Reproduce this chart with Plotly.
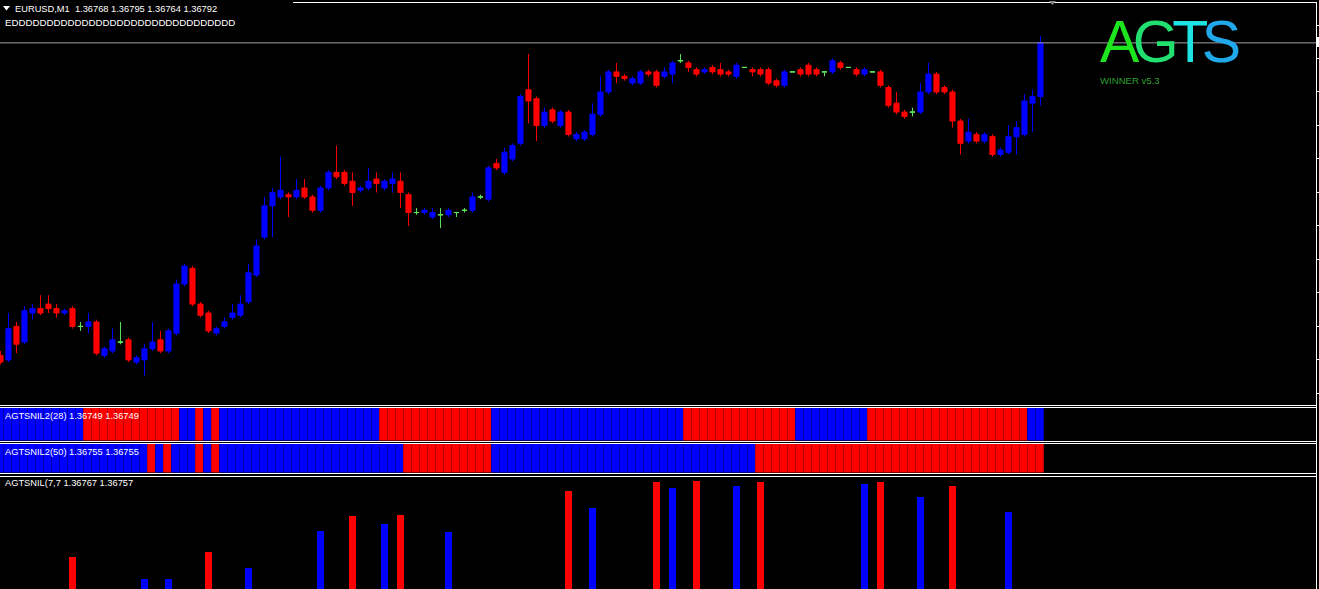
import plotly.graph_objects as go

W, H = 1319, 589

# ---------------- data (EURUSD M1, oldest -> newest) ----------------
symbol = "EURUSD,M1"
open_ = [1.36652, 1.36650, 1.36665, 1.36658, 1.36671, 1.36673, 1.36675, 1.36673, 1.36671, 1.36673,
         1.36665, 1.36665, 1.36667, 1.36652, 1.36654, 1.36658, 1.36659, 1.36649, 1.36650, 1.36655,
         1.36659, 1.36654, 1.36662, 1.36684, 1.36691, 1.36675, 1.36671, 1.36662, 1.36665, 1.36669,
         1.36670, 1.36676, 1.36688, 1.36705, 1.36719, 1.36723, 1.36724, 1.36723, 1.36727, 1.36723,
         1.36717, 1.36727, 1.36734, 1.36734, 1.36730, 1.36726, 1.36727, 1.36731, 1.36727, 1.36729,
         1.36730, 1.36724, 1.36716, 1.36716, 1.36714, 1.36715, 1.36715, 1.36716, 1.36717, 1.36717,
         1.36723, 1.36722, 1.36738, 1.36734, 1.36740, 1.36747, 1.36771, 1.36767, 1.36755, 1.36762,
         1.36755, 1.36761, 1.36749, 1.36749, 1.36751, 1.36760, 1.36770, 1.36779, 1.36777, 1.36774,
         1.36774, 1.36779, 1.36779, 1.36777, 1.36778, 1.36784, 1.36783, 1.36780, 1.36779, 1.36781,
         1.36780, 1.36779, 1.36777, 1.36781, 1.36780, 1.36780, 1.36780, 1.36775, 1.36773, 1.36779,
         1.36780, 1.36782, 1.36780, 1.36779, 1.36779, 1.36783, 1.36781, 1.36780, 1.36778, 1.36779,
         1.36779, 1.36772, 1.36765, 1.36761, 1.36761, 1.36761, 1.36770, 1.36778, 1.36772, 1.36770,
         1.36757, 1.36748, 1.36751, 1.36748, 1.36750, 1.36742, 1.36743, 1.36750, 1.36751, 1.36765,
         1.36768]
high = [1.36654, 1.36671, 1.36667, 1.36674, 1.36675, 1.36679, 1.36679, 1.36675, 1.36673, 1.36674,
        1.36667, 1.36671, 1.36668, 1.36656, 1.36664, 1.36667, 1.36660, 1.36652, 1.36657, 1.36667,
        1.36663, 1.36664, 1.36686, 1.36693, 1.36692, 1.36676, 1.36672, 1.36665, 1.36669, 1.36675,
        1.36679, 1.36693, 1.36704, 1.36723, 1.36727, 1.36741, 1.36725, 1.36731, 1.36731, 1.36724,
        1.36728, 1.36735, 1.36746, 1.36735, 1.36734, 1.36728, 1.36736, 1.36734, 1.36731, 1.36734,
        1.36734, 1.36725, 1.36718, 1.36718, 1.36718, 1.36718, 1.36718, 1.36716, 1.36718, 1.36725,
        1.36724, 1.36737, 1.36740, 1.36745, 1.36747, 1.36769, 1.36787, 1.36768, 1.36763, 1.36763,
        1.36762, 1.36762, 1.36752, 1.36753, 1.36765, 1.36777, 1.36780, 1.36783, 1.36778, 1.36777,
        1.36780, 1.36780, 1.36780, 1.36781, 1.36784, 1.36787, 1.36784, 1.36781, 1.36781, 1.36782,
        1.36783, 1.36780, 1.36783, 1.36781, 1.36781, 1.36781, 1.36781, 1.36776, 1.36780, 1.36779,
        1.36781, 1.36783, 1.36781, 1.36779, 1.36785, 1.36784, 1.36781, 1.36781, 1.36781, 1.36779,
        1.36780, 1.36773, 1.36770, 1.36762, 1.36763, 1.36774, 1.36783, 1.36779, 1.36773, 1.36771,
        1.36758, 1.36758, 1.36752, 1.36752, 1.36751, 1.36745, 1.36755, 1.36757, 1.36769, 1.36771,
        1.36795]
low = [1.36648, 1.36649, 1.36653, 1.36657, 1.36668, 1.36670, 1.36671, 1.36669, 1.36670, 1.36664,
       1.36663, 1.36662, 1.36652, 1.36651, 1.36653, 1.36657, 1.36649, 1.36648, 1.36643, 1.36654,
       1.36653, 1.36653, 1.36661, 1.36683, 1.36674, 1.36669, 1.36662, 1.36661, 1.36664, 1.36668,
       1.36669, 1.36675, 1.36687, 1.36704, 1.36705, 1.36722, 1.36714, 1.36722, 1.36722, 1.36716,
       1.36716, 1.36726, 1.36731, 1.36728, 1.36719, 1.36725, 1.36726, 1.36725, 1.36726, 1.36725,
       1.36718, 1.36710, 1.36715, 1.36715, 1.36713, 1.36709, 1.36714, 1.36714, 1.36716, 1.36716,
       1.36722, 1.36721, 1.36735, 1.36733, 1.36739, 1.36746, 1.36756, 1.36748, 1.36754, 1.36756,
       1.36754, 1.36750, 1.36748, 1.36748, 1.36750, 1.36759, 1.36769, 1.36774, 1.36775, 1.36773,
       1.36773, 1.36777, 1.36772, 1.36776, 1.36774, 1.36783, 1.36779, 1.36777, 1.36778, 1.36778,
       1.36777, 1.36777, 1.36776, 1.36781, 1.36777, 1.36777, 1.36773, 1.36772, 1.36772, 1.36779,
       1.36777, 1.36777, 1.36777, 1.36777, 1.36778, 1.36780, 1.36781, 1.36777, 1.36777, 1.36779,
       1.36772, 1.36763, 1.36760, 1.36758, 1.36759, 1.36760, 1.36769, 1.36769, 1.36769, 1.36754,
       1.36742, 1.36747, 1.36747, 1.36747, 1.36741, 1.36741, 1.36742, 1.36742, 1.36750, 1.36752,
       1.36764]
close = [1.36649, 1.36664, 1.36657, 1.36672, 1.36673, 1.36671, 1.36673, 1.36671, 1.36672, 1.36665,
         1.36665, 1.36667, 1.36653, 1.36655, 1.36659, 1.36658, 1.36650, 1.36651, 1.36655, 1.36658,
         1.36654, 1.36663, 1.36684, 1.36692, 1.36675, 1.36670, 1.36663, 1.36664, 1.36667, 1.36671,
         1.36675, 1.36689, 1.36701, 1.36719, 1.36725, 1.36726, 1.36723, 1.36726, 1.36723, 1.36717,
         1.36727, 1.36734, 1.36732, 1.36729, 1.36725, 1.36727, 1.36730, 1.36729, 1.36730, 1.36731,
         1.36725, 1.36716, 1.36716, 1.36717, 1.36716, 1.36715, 1.36717, 1.36716, 1.36717, 1.36723,
         1.36723, 1.36736, 1.36736, 1.36743, 1.36746, 1.36768, 1.36766, 1.36755, 1.36761, 1.36757,
         1.36761, 1.36751, 1.36751, 1.36752, 1.36760, 1.36770, 1.36779, 1.36777, 1.36776, 1.36776,
         1.36779, 1.36778, 1.36773, 1.36779, 1.36783, 1.36784, 1.36781, 1.36778, 1.36780, 1.36779,
         1.36778, 1.36778, 1.36782, 1.36781, 1.36779, 1.36778, 1.36774, 1.36773, 1.36779, 1.36779,
         1.36778, 1.36778, 1.36778, 1.36779, 1.36784, 1.36781, 1.36781, 1.36778, 1.36780, 1.36779,
         1.36773, 1.36764, 1.36761, 1.36759, 1.36761, 1.36770, 1.36778, 1.36770, 1.36770, 1.36757,
         1.36747, 1.36752, 1.36748, 1.36751, 1.36742, 1.36744, 1.36750, 1.36754, 1.36766, 1.36768,
         1.36792]

price_ticks = [1.36800, 1.36785, 1.36770, 1.36755, 1.36740, 1.36725,
               1.36710, 1.36695, 1.36680, 1.36665, 1.36650, 1.36635]

# AGTSNIL2 state per bar (B = blue, R = red)
trend28 = ("BBBBBBBBBBB" "RRRRRRRRRRRR" "BB" "R" "B" "R"
           "BBBBBBBBBBBBBBBBBBBB" "RRRRRRRRRRRRRR"
           "BBBBBBBBBBBBBBBBBBBBBBBB" "RRRRRRRRRRRRRR"
           "BBBBBBBBB" "RRRRRRRRRRRRRRRRRRRR" "BB")
trend50 = ("BBBBBBBBBBBBBBBBBBB" "R" "B" "R" "BBB" "R" "B" "R"
           "BBBBBBBBBBBBBBBBBBBBBBB" "RRRRRRRRRRR"
           "BBBBBBBBBBBBBBBBBBBBBBBBBBBBBBBBB"
           "RRRRRRRRRRRRRRRRRRRRRRRRRRRRRRRRRRRR")

# AGTSNIL(7,7) histogram
hist_blue_idx = [18, 21, 31, 40, 48, 56, 74, 84, 92, 108, 115, 126]
hist_blue_val = [10, 10, 21, 58, 65, 57, 81, 101, 103, 105, 92, 77]
hist_red_idx = [9, 26, 44, 50, 71, 82, 87, 95, 110, 119]
hist_red_val = [32, 37, 73, 74, 98, 107, 108, 107, 107, 103]

label28 = "AGTSNIL2(28) 1.36749 1.36749"
label50 = "AGTSNIL2(50) 1.36755 1.36755"
label77 = "AGTSNIL(7,7 1.36767 1.36757"
extra_line = "EDDDDDDDDDDDDDDDDDDDDDDDDDDDDDDDD"
logo_letters = ["A", "G", "T", "S"]
logo_sub = "WINNER v5.3"

# ---------------- styling ----------------
BLUE = "#0000ff"
RED = "#ff0000"
BLUE_EDGE = "#0000b0"
RED_EDGE = "#b80000"
DOJI = "#5ce65c"
WHITE = "#ffffff"
FONT = "Liberation Sans, Arial, sans-serif"

n = len(close)
assert len(open_) == n and len(high) == n and len(low) == n
assert len(trend28) == n and len(trend50) == n, (len(trend28), len(trend50))
idx = list(range(n))


def px(x):
    return x / W


def py(y):
    return 1 - y / H


XR = [-0.06, 1316 / 8 - 0.06]
XDOM = [0, 1316 / W]

fig = go.Figure()


def candles(ids, color):
    return go.Candlestick(
        x=ids,
        open=[open_[i] for i in ids], high=[high[i] for i in ids],
        low=[low[i] for i in ids], close=[close[i] for i in ids],
        increasing=dict(line=dict(color=color, width=1), fillcolor=color),
        decreasing=dict(line=dict(color=color, width=1), fillcolor=color),
        whiskerwidth=0, showlegend=False, hoverinfo="skip",
        xaxis="x", yaxis="y")


bull = [i for i in idx if close[i] > open_[i]]
bear = [i for i in idx if close[i] < open_[i]]
doji = [i for i in idx if close[i] == open_[i]]
fig.add_trace(candles(bull, BLUE))
fig.add_trace(candles(bear, RED))
fig.add_trace(candles(doji, DOJI))

for s, xa, ya in [(trend28, "x2", "y2"), (trend50, "x3", "y3")]:
    fig.add_trace(go.Bar(
        x=idx, y=[1] * n, width=1,
        marker=dict(color=[BLUE if c == "B" else RED for c in s],
                    line=dict(color=[BLUE_EDGE if c == "B" else RED_EDGE for c in s], width=1)),
        showlegend=False, hoverinfo="skip", xaxis=xa, yaxis=ya))

fig.add_trace(go.Bar(x=hist_blue_idx, y=hist_blue_val, width=0.85, marker=dict(color=BLUE, line=dict(width=0)),
                     showlegend=False, hoverinfo="skip", xaxis="x4", yaxis="y4"))
fig.add_trace(go.Bar(x=hist_red_idx, y=hist_red_val, width=0.85, marker=dict(color=RED, line=dict(width=0)),
                     showlegend=False, hoverinfo="skip", xaxis="x4", yaxis="y4"))

xbase = dict(range=XR, domain=XDOM, showgrid=False, zeroline=False, showticklabels=False,
             ticks="", showline=False, fixedrange=True)
ybase = dict(showgrid=False, zeroline=False, showticklabels=False, ticks="", showline=False,
             fixedrange=True, side="right")

shapes = []


def hline(y, x0=0, x1=1316, color=WHITE):
    shapes.append(dict(type="line", xref="paper", yref="paper", x0=px(x0), x1=px(x1),
                       y0=py(y), y1=py(y), line=dict(color=color, width=1)))


hline(2.5, x0=293)
for y in [405.5, 407.5, 441.5, 443.5, 473.5, 476.5]:
    hline(y)
shapes.append(dict(type="line", xref="paper", yref="paper", x0=px(1316.5), x1=px(1316.5),
                   y0=py(2), y1=0, line=dict(color=WHITE, width=1)))
# bid line
shapes.append(dict(type="line", xref="paper", yref="y", x0=0, x1=px(1316), y0=close[-1], y1=close[-1],
                   line=dict(color="#a0a0a8", width=1)))
# price marker stub beyond the scale line
shapes.append(dict(type="rect", xref="paper", yref="paper", x0=px(1317), x1=px(1319.5),
                   y0=py(47), y1=py(37), line=dict(width=0), fillcolor=WHITE))


def tri(pts, color):
    path = "M " + " L ".join(f"{px(a):.6f},{py(b):.6f}" for a, b in pts) + " Z"
    shapes.append(dict(type="path", xref="paper", yref="paper", path=path,
                       fillcolor=color, line=dict(width=0)))


tri([(3, 6), (10, 6), (6.5, 10.5)], WHITE)
tri([(1049, 1), (1056, 1), (1052.5, 5)], "#8a8a8a")

ann = []


def text(x, y, s, size, color=WHITE, anchor="left"):
    ann.append(dict(x=px(x), y=py(y), xref="paper", yref="paper", text=s, showarrow=False,
                    xanchor=anchor, yanchor="middle", borderpad=0, borderwidth=0,
                    font=dict(family=FONT, size=size, color=color)))


header = f"{symbol}\u00a0 {open_[-1]:.5f} {high[-1]:.5f} {low[-1]:.5f} {close[-1]:.5f}"
text(15, 9, header, 9.3)
text(5, 22, extra_line, 9.7)
text(5, 416, label28, 9.3)
text(5, 452, label50, 9.3)
text(5, 483, label77, 9.3)

logo_c = ["#1ee61e", "#22e070", "#1ee3e3", "#20a8ea"]
logo = "".join(f'<span style="color:{c};letter-spacing:-6.5px">{L}</span>'
               for L, c in zip(logo_letters, logo_c))
text(1100, 42, logo, 59)
text(1100, 80.5, logo_sub, 9.6, color="#2f9f2f")

fig.update_layout(
    width=W, height=H, margin=dict(l=0, r=0, t=0, b=0),
    paper_bgcolor="#000000", plot_bgcolor="#000000",
    showlegend=False, barmode="overlay", bargap=0, boxmode="overlay",
    boxgap=0.2, boxgroupgap=0.2,
    xaxis=dict(xbase, anchor="y", rangeslider=dict(visible=False)),
    xaxis2=dict(xbase, anchor="y2"),
    xaxis3=dict(xbase, anchor="y3"),
    xaxis4=dict(xbase, anchor="y4"),
    yaxis=dict(ybase, anchor="x", domain=[py(405), py(2)], range=[1.366298, 1.368103],
               tickmode="array", tickvals=price_ticks, ticks="outside", ticklen=3,
               tickwidth=1, tickcolor=WHITE),
    yaxis2=dict(ybase, anchor="x2", domain=[py(440.5), py(408)], range=[0, 1]),
    yaxis3=dict(ybase, anchor="x3", domain=[py(472.5), py(444)], range=[0, 1]),
    yaxis4=dict(ybase, anchor="x4", domain=[0, py(477)], range=[0, 112]),
    shapes=shapes, annotations=ann,
)

fig.write_html("out.html", config={"displayModeBar": False},
               post_script="document.body.style.margin='0px';")
